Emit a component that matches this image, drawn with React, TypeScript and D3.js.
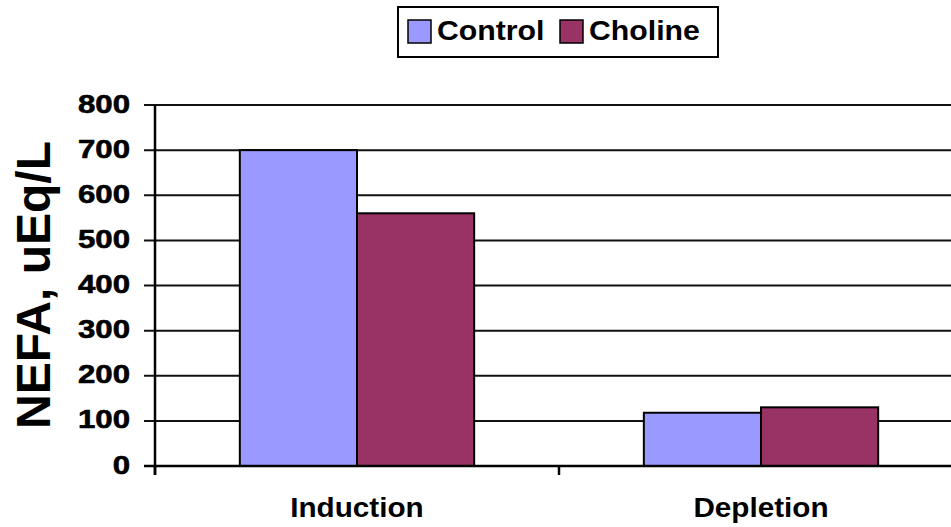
import React, { useEffect } from 'react';
import * as d3 from 'd3';

const categories = ['Induction', 'Depletion'];
const seriesNames = ['Control', 'Choline'];
const controlValues = [700, 118];
const cholineValues = [560, 130];
const yTicks = [0, 100, 200, 300, 400, 500, 600, 700, 800];
const colors = ['#9999FF', '#993366'];

const W = 951;
const H = 527;
const FONT = '"Liberation Sans", Arial, sans-serif';

export default function App() {
    useEffect(() => {
        document.body.style.margin = '0';
    }, []);

    const y = d3.scaleLinear().domain([0, 800]).range([466, 105]);
    const x = d3.scaleBand<string>()
        .domain(categories)
        .range([155, 963])
        .paddingInner(0.42)
        .paddingOuter(0.21);
    const xs = d3.scaleBand<string>()
        .domain(seriesNames)
        .range([0, x.bandwidth()]);

    const values = [controlValues, cholineValues];
    const step = x.step();
    // boundaries between categories for the x-axis ticks
    const xBounds = [155, ...categories.map(c => (x(c) as number) - x.paddingOuter() * step + step)];

    return (
        <svg width={W} height={H} style={{ display: 'block', background: '#fff' }}>
            {/* gridlines */}
            {yTicks.filter(t => t > 0).map(t => (
                <line key={t} x1={144} x2={963} y1={y(t)} y2={y(t)} stroke="#111" strokeWidth={2} />
            ))}

            {/* bars */}
            {categories.map((c, i) => (
                <g key={c} transform={`translate(${x(c)},0)`}>
                    {seriesNames.map((s, j) => (
                        <rect key={s}
                            x={xs(s)}
                            y={y(values[j][i])}
                            width={xs.bandwidth()}
                            height={y(0) - y(values[j][i])}
                            fill={colors[j]}
                            stroke="#000"
                            strokeWidth={2} />
                    ))}
                </g>
            ))}

            {/* axes */}
            <line x1={155} x2={155} y1={105} y2={475} stroke="#000" strokeWidth={2.5} />
            <line x1={144} x2={963} y1={y(0)} y2={y(0)} stroke="#000" strokeWidth={2.5} />
            {xBounds.map((b, i) => (
                <line key={i} x1={b} x2={b} y1={y(0)} y2={475} stroke="#000" strokeWidth={2.5} />
            ))}

            {/* y tick labels */}
            {yTicks.map(t => (
                <text key={t}
                    transform={`translate(130,${y(t) + 7.5}) scale(1.2,1)`}
                    textAnchor="end"
                    fontFamily={FONT}
                    fontWeight="bold"
                    fontSize={26}
                    stroke="#000"
                    strokeWidth={0.6}
                    fill="#000">{t}</text>
            ))}

            {/* x labels */}
            {categories.map(c => (
                <text key={c}
                    transform={`translate(${(x(c) as number) + x.bandwidth() / 2},517) scale(1.06,1)`}
                    textAnchor="middle"
                    fontFamily={FONT}
                    fontWeight="bold"
                    fontSize={28}
                    fill="#000">{c}</text>
            ))}

            {/* y title */}
            <text transform="translate(50,285) rotate(-90)"
                textAnchor="middle"
                fontFamily={FONT}
                fontWeight="bold"
                fontSize={48}
                fill="#000">NEFA, uEq/L</text>

            {/* legend */}
            <g>
                <rect x={398} y={7} width={320} height={50} fill="#fff" stroke="#000" strokeWidth={2} />
                {seriesNames.map((s, j) => {
                    const lx = j === 0 ? 408 : 560;
                    return (
                        <g key={s}>
                            <rect x={lx} y={20} width={23} height={23} fill={colors[j]} stroke="#000" strokeWidth={1.5} />
                            <text transform={`translate(${lx + 29},40) scale(1.08,1)`}
                                fontFamily={FONT}
                                fontWeight="bold"
                                fontSize={28}
                                fill="#000">{s}</text>
                        </g>
                    );
                })}
            </g>
        </svg>
    );
}
